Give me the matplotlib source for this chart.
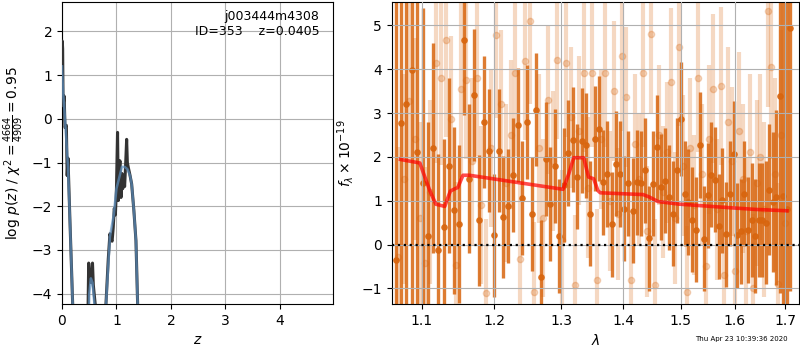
import matplotlib
matplotlib.use('Agg')
import matplotlib.pyplot as plt
from matplotlib.ticker import FixedLocator, FormatStrFormatter, NullLocator

# ---- p(z) panel
z_pz = [0.0, 0.005, 0.012, 0.02, 0.04, 0.055, 0.08, 0.095, 0.11, 0.12, 0.145, 0.196, 0.22,
        0.46, 0.49, 0.505, 0.52, 0.535, 0.56, 0.575, 0.63, 0.66,
        0.78, 0.807, 0.85, 0.88, 0.90, 0.92, 0.94, 0.96, 0.98, 1.0, 1.02, 1.035, 1.05, 1.064,
        1.083, 1.10, 1.115, 1.13, 1.15, 1.17, 1.187, 1.20, 1.217, 1.25, 1.279, 1.32, 1.358, 1.389, 1.41]
logp_pz = [1.0, 1.78, 1.6, 0.3, 0.52, -0.2, -0.15, -1.3, -0.9, -1.3, -2.3, -4.24, -6,
           -6, -3.3, -3.7, -3.5, -3.75, -3.3, -3.8, -4.5, -6,
           -6, -4.24, -3.2, -2.63, -2.75, -2.8, -2.5, -2.05, -2.2, -1.6, -0.31, -1.87, -1.2, -0.96,
           -1.8, -1.25, -1.6, -1.3, -1.55, -1.0, -0.47, -1.0, -1.11, -1.3, -1.49, -2.1, -2.79, -4.25, -6]

z_smooth = [0.0, 0.02, 0.05, 0.08, 0.11, 0.145, 0.196, 0.22,
            0.47, 0.50, 0.53, 0.56, 0.60, 0.65,
            0.78, 0.81, 0.88, 0.95, 1.0, 1.05, 1.1, 1.15, 1.2, 1.25, 1.28, 1.32, 1.358, 1.389, 1.41]
logp_smooth = [1.2, 0.6, 0.1, -0.5, -1.1, -2.3, -4.24, -6,
               -6, -4.0, -3.65, -3.75, -4.3, -6,
               -6, -4.2, -2.7, -2.2, -1.6, -1.35, -1.1, -1.1, -1.15, -1.3, -1.5, -2.1, -2.79, -4.25, -6]

# ---- spectrum panel, dark series
wave_a = [1.066, 1.073, 1.080, 1.087, 1.094, 1.101, 1.108, 1.115, 1.122, 1.129, 1.136, 1.143,
          1.150, 1.157, 1.164, 1.171, 1.178, 1.185, 1.192, 1.199, 1.206, 1.213, 1.220, 1.227,
          1.234, 1.241, 1.248, 1.255, 1.262, 1.269, 1.276, 1.283, 1.290, 1.297, 1.304, 1.311,
          1.318, 1.325, 1.332, 1.339, 1.346, 1.353, 1.360, 1.367, 1.374, 1.381, 1.388, 1.395,
          1.402, 1.409, 1.416, 1.423, 1.430, 1.437, 1.444, 1.451, 1.458, 1.465, 1.472, 1.479,
          1.486, 1.493, 1.500, 1.507, 1.514, 1.521, 1.528, 1.535, 1.542, 1.549, 1.556, 1.563,
          1.570, 1.577, 1.584, 1.591, 1.598, 1.605, 1.612, 1.619, 1.626, 1.633, 1.640, 1.647,
          1.654, 1.661, 1.668, 1.675, 1.682, 1.689, 1.696, 1.703, 1.710]
flux_a = [-0.36, 2.77, 3.2, 3.98, 2.12, 1.4, 0.2, 2.2, -0.13, 0.4, 1.8, 0.78,
          0.46, 4.66, 1.5, 3.41, 0.55, 2.8, 2.14, 0.21, 2.14, 0.63, 0.89, 1.58,
          2.73, 1.06, 2.79, 0.7, 3.08, -0.73, 1.95, 0.93, 1.79, 0.19, 1.36, 2.09,
          2.39, 1.55, 2.37, 2.26, 0.7, 2.41, 2.64, 1.42, 1.61, 0.46, 1.84, 1.61,
          0.82, 1.4, 0.77, 1.42, 1.4, 1.69, 0.14, 1.39, 2.22, 1.31, 1.46, 1.08,
          0.7, 1.69, 2.86, 1.16, 0.97, 0.57, 0.34, 2.27, 0.13, 1.12, 1.59, 1.48,
          0.42, 1.01, 0.23, 1.16, 2.07, 0.21, 0.3, 1.16, 0.33, 0.57, 0.2, 0.55,
          0.55, 0.5, 1.25, 0.97, 1.08, 3.39, 1.1, 0.8, 4.95]
err_a = [6, 6, 6, 6, 6, 4, 2.6, 2.4, 2.2, 2.0, 2.0, 1.9,
         1.8, 1.7, 1.7, 1.5, 1.5, 1.5, 1.4, 1.4, 1.4, 1.4, 1.3, 1.3,
         1.3, 1.3, 1.3, 1.3, 1.3, 1.3, 1.3, 1.3, 1.3, 1.3, 1.3, 1.2,
         1.2, 1.2, 1.2, 1.2, 1.2, 1.2, 1.2, 1.2, 1.2, 1.2, 1.2, 1.2,
         1.2, 1.2, 1.2, 1.2, 1.2, 1.2, 1.2, 1.2, 1.2, 1.2, 1.2, 1.2,
         1.2, 1.2, 1.3, 1.2, 1.2, 1.2, 1.2, 1.2, 1.2, 1.2, 1.2, 1.2,
         1.2, 1.2, 1.2, 1.2, 1.2, 1.2, 1.2, 1.2, 1.2, 1.3, 1.3, 1.3,
         1.3, 1.4, 1.5, 1.6, 2.0, 4.5, 6, 6, 6]

# ---- spectrum panel, faint series
wave_b = [1.0695, 1.0765, 1.0835, 1.0905, 1.0975, 1.1045, 1.1115, 1.1185, 1.1255, 1.1325,
          1.1395, 1.1465, 1.1535, 1.1605, 1.1675, 1.1745, 1.1815, 1.1885, 1.1955, 1.2025,
          1.2095, 1.2165, 1.2235, 1.2305, 1.2375, 1.2445, 1.2515, 1.2585, 1.2655, 1.2725,
          1.2795, 1.2865, 1.2935, 1.3005, 1.3075, 1.3145, 1.3215, 1.3285, 1.3355, 1.3425,
          1.3495, 1.3565, 1.3635, 1.3705, 1.3775, 1.3845, 1.3915, 1.3985, 1.4055, 1.4125,
          1.4195, 1.4265, 1.4335, 1.4405, 1.4475, 1.4545, 1.4615, 1.4685, 1.4755, 1.4825,
          1.4895, 1.4965, 1.5035, 1.5105, 1.5175, 1.5245, 1.5315, 1.5385, 1.5455, 1.5525,
          1.5595, 1.5665, 1.5735, 1.5805, 1.5875, 1.5945, 1.6015, 1.6085, 1.6155, 1.6225,
          1.6295, 1.6365, 1.6435, 1.6505, 1.6575, 1.6645, 1.6715, 1.6785, 1.6855, 1.6925,
          1.6995]
flux_b = [-0.28, 1.5, 3.28, 2.41, 0.6, -0.43, 1.2, 4.15, 3.81, 4.66,
          2.86, -0.47, 3.55, 3.76, 1.9, 3.81, 0.9, -1.11, 2.2, 4.78,
          3.2, 1.4, 2.5, 3.92, -0.32, 4.19, 5.1, -1.08, 2.2, 0.6,
          3.3, 1.9, 4.2, 0.1, 4.15, 2.9, -0.92, 2.6, 3.92, 1.3,
          3.92, -0.8, 2.4, 3.92, 1.0, 3.5, 0.7, 4.3, 3.36, -0.8,
          2.3, 1.5, 3.92, 0.3, 4.8, -0.92, 2.5, 1.2, 2.1, 3.7,
          0.6, 4.5, 1.8, -1.08, 2.2, 0.9, 3.8, 1.6, -0.5, 2.4,
          3.55, 0.8, 3.62, -0.7, 2.8, 1.9, -0.6, 2.6, 1.5, 0.3,
          2.1, -1.0, 1.4, 2.0, 0.8, 5.33, 4.04, 1.6, -0.9, 2.5,
          0.5]
err_b = [2.5, 2.4, 2.3, 2.3, 2.2, 2.2, 2.1, 2.3, 2.0, 2.2,
         1.9, 1.9, 2.0, 1.8, 1.9, 1.8, 1.8, 1.7, 1.8, 1.9,
         1.7, 1.8, 1.7, 1.9, 1.7, 1.8, 1.9, 1.6, 1.7, 1.8,
         1.7, 1.6, 1.8, 1.6, 1.7, 1.6, 1.6, 1.7, 1.8, 1.6,
         1.7, 1.6, 1.6, 1.7, 1.6, 1.6, 1.5, 1.7, 1.6, 1.5,
         1.6, 1.5, 1.7, 1.5, 1.8, 1.5, 1.6, 1.5, 1.6, 1.7,
         1.5, 1.8, 1.6, 1.5, 1.6, 1.6, 1.7, 1.6, 1.6, 1.7,
         1.7, 1.6, 1.8, 1.6, 1.7, 1.7, 1.6, 1.8, 1.7, 1.7,
         1.8, 1.7, 1.9, 1.9, 2.0, 2.2, 2.1, 2.2, 2.3, 2.4,
         2.5]

# ---- model
wave_model = [1.0723, 1.0974, 1.1040, 1.1106, 1.1186, 1.1307, 1.1338, 1.1383, 1.1441, 1.1485,
              1.1556, 1.1646, 1.3028, 1.3117, 1.3196, 1.3354, 1.3432, 1.3515, 1.3584, 1.3622,
              1.4338, 1.4453, 1.4597, 1.4982, 1.5907, 1.6424, 1.7037]
flux_model = [1.94, 1.86, 1.54, 1.23, 0.92, 0.87, 1.02, 1.22, 1.27, 1.30,
              1.58, 1.58, 1.26, 1.61, 1.98, 1.98, 1.54, 1.50, 1.23, 1.18,
              1.14, 1.08, 0.98, 0.92, 0.84, 0.80, 0.77]

col = '#d8650e'

fig = plt.figure(figsize=(8, 3.5), dpi=100)

ax = fig.add_axes([0.0775, 0.131, 0.339, 0.863])
ax.plot(z_pz, logp_pz, color='0.2', lw=2.2, zorder=3)
ax.plot(z_smooth, logp_smooth, color='#5b8fc0', lw=1.8, alpha=0.7, zorder=4)
ax.set_xlim(0, 4.98)
ax.set_ylim(-4.24, 2.67)
ax.set_xticks([0, 1, 2, 3, 4])
ax.set_yticks([-4, -3, -2, -1, 0, 1, 2])
ax.grid(True)
ax.set_xlabel('$z$')
ax.set_ylabel(r'log $p(z)$ / $\chi^2=\frac{4664}{4909}=0.95$')
ax.text(0.95, 0.975, 'j003444m4308\nID=353    z=0.0405', ha='right', va='top',
        transform=ax.transAxes, fontsize=9)

bx = fig.add_axes([0.4896, 0.131, 0.5095, 0.863])
bx.errorbar(wave_b, flux_b, yerr=err_b, marker='o', linestyle='None', color=col,
            alpha=0.25, ms=4.5, elinewidth=3.0, zorder=1)
bx.errorbar(wave_a, flux_a, yerr=err_a, marker='o', linestyle='None', color=col,
            alpha=0.85, ms=3.8, elinewidth=2.4, zorder=2)
bx.plot(wave_model, flux_model, color='r', lw=2.6, alpha=0.7, zorder=4)
bx.axhline(0, color='k', linestyle=':', lw=1.6, zorder=5)
bx.set_xscale('log')
bx.set_xlim(1.061, 1.729)
bx.set_ylim(-1.36, 5.53)
bx.xaxis.set_major_locator(FixedLocator([1.1, 1.2, 1.3, 1.4, 1.5, 1.6, 1.7]))
bx.xaxis.set_major_formatter(FormatStrFormatter('%.1f'))
bx.xaxis.set_minor_locator(NullLocator())
bx.set_yticks([-1, 0, 1, 2, 3, 4, 5])
bx.set_axisbelow(False)
bx.grid(True, zorder=3)
bx.set_xlabel(r'$\lambda$')
bx.set_ylabel(r'$f_\lambda\times10^{-19}$')

fig.text(0.984, 0.031, 'Thu Apr 23 10:39:36 2020', ha='right', va='center', fontsize=5)

fig.savefig('out.png', dpi=100)
